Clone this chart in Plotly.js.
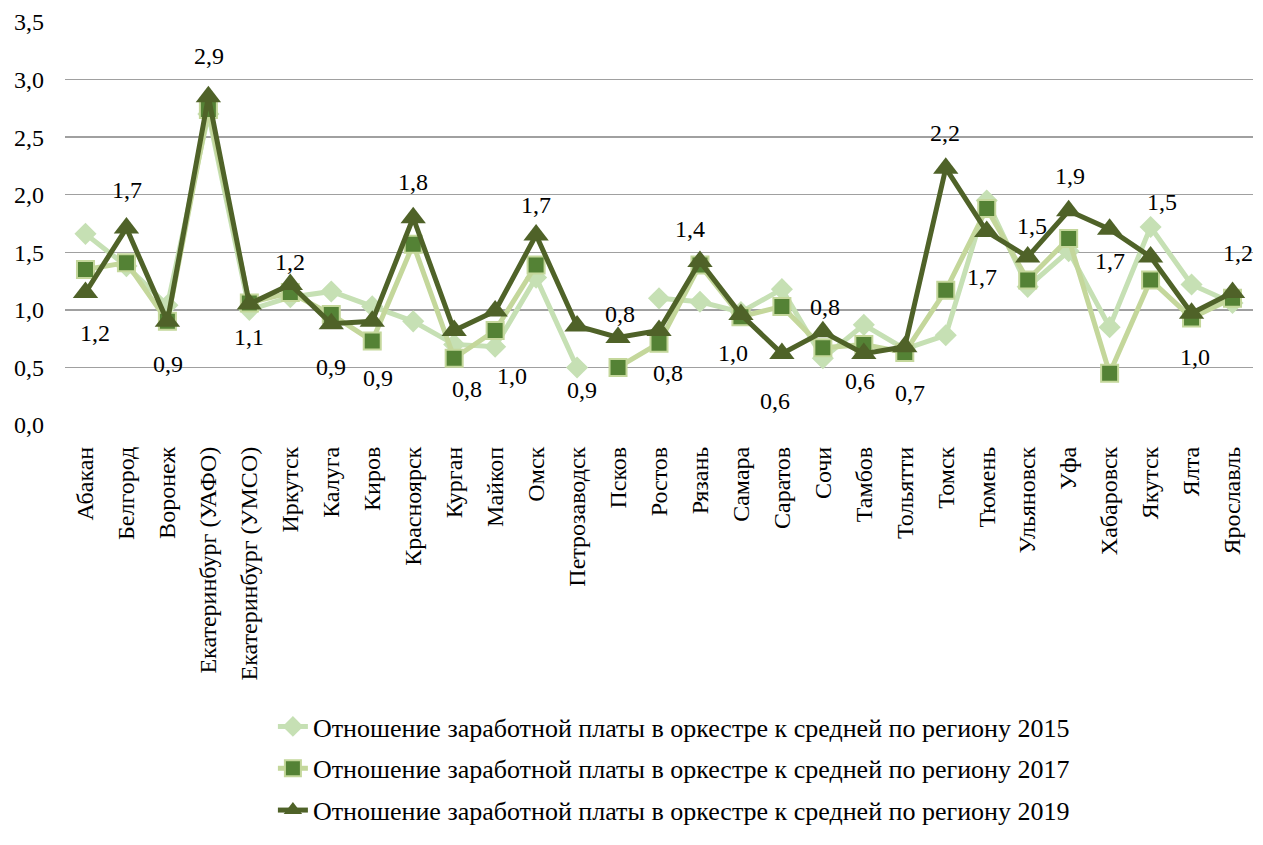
<!DOCTYPE html>
<html>
<head>
<meta charset="utf-8">
<script src="https://cdn.plot.ly/plotly-3.0.1.min.js"></script>
<style>html,body{margin:0;padding:0;background:#fff;}#chart{width:1263px;height:845px;}</style>
</head>
<body>
<div id="chart"></div>
<script>
const categories = ["Абакан","Белгород","Воронеж","Екатеринбург (УАФО)","Екатеринбург (УМСО)","Иркутск","Калуга","Киров","Красноярск","Курган","Майкоп","Омск","Петрозаводск","Псков","Ростов","Рязань","Самара","Саратов","Сочи","Тамбов","Тольятти","Томск","Тюмень","Ульяновск","Уфа","Хабаровск","Якутск","Ялта","Ярославль"];

const v2015 = [1.66,1.38,1.04,2.70,1.00,1.11,1.16,1.03,0.90,0.70,0.68,1.28,0.50,null,1.10,1.07,0.98,1.18,0.58,0.87,0.66,0.78,1.95,1.20,1.51,0.85,1.72,1.22,1.06];
const v2017 = [1.35,1.41,0.90,2.74,1.06,1.15,0.96,0.73,1.57,0.58,0.82,1.39,null,0.50,0.71,1.39,0.94,1.03,0.67,0.70,0.63,1.17,1.88,1.26,1.62,0.45,1.26,0.93,1.10];
const v2019 = [1.15,1.71,0.90,2.85,1.05,1.22,0.88,0.90,1.80,0.82,0.99,1.65,0.86,0.76,0.82,1.42,0.96,0.62,0.81,0.62,0.68,2.23,1.68,1.46,1.86,1.70,1.46,0.97,1.15];

const seriesNames = [
  "Отношение заработной платы в оркестре к средней по региону 2015",
  "Отношение заработной платы в оркестре к средней по региону 2017",
  "Отношение заработной платы в оркестре к средней по региону 2019"
];

// label placement offsets (pixels) for the 2019 data labels
const labelDy = [-40,38,-43,41,-33,23,-43,-57,36,-58,-65,30,-64,23,-42,33,-39,-47,25,-27,-46,35,-45,31,35,-32,55,-44,40];
const labelDx = [10,1,1,1,0,0,0,6,0,13,17,0,5,2,9,-10,-8,-7,2,-4,5,-1,-5,4,1,0,11,3,5];

const FONT = "Liberation Serif";

const traces = [
  {x: categories, y: v2015, name: seriesNames[0], type: "scatter", mode: "lines+markers",
   legendgroup: "a", connectgaps: false,
   line: {color: "#c6e0b4", width: 5},
   marker: {symbol: "diamond", size: 17, color: "#c6e0b4", line: {width: 0}}},
  {x: categories, y: v2017, name: seriesNames[1], type: "scatter", mode: "lines+markers",
   legendgroup: "b", connectgaps: false,
   line: {color: "#c4d79b", width: 5},
   marker: {symbol: "square", size: 17, color: "#548235", line: {color: "#c4d79b", width: 2}}},
  {x: categories, y: v2019, name: seriesNames[2], type: "scatter", mode: "lines+markers",
   legendgroup: "c", connectgaps: false,
   line: {color: "#4f6228", width: 5},
   marker: {symbol: "triangle-up", size: 22, color: "#4f6228", line: {width: 0}}}
];

const annotations = v2019.map((v, i) => ({
  x: categories[i], y: v, xref: "x", yref: "y",
  text: (Math.round(v * 10) / 10).toFixed(1).replace(".", ","),
  showarrow: false, yshift: labelDy[i], xshift: labelDx[i],
  font: {family: FONT, size: 24, color: "#000"}
}));

const layout = {
  width: 1263, height: 845,
  margin: {l: 65, r: 10, t: 22, b: 420},
  paper_bgcolor: "#fff", plot_bgcolor: "#fff",
  separators: ", ",
  font: {family: FONT, size: 24, color: "#000"},
  showlegend: true,
  legend: {x: 0.175, y: -0.69, xanchor: "left", yanchor: "top", orientation: "v",
           tracegroupgap: 5, font: {family: FONT, size: 26, color: "#000"}, bgcolor: "rgba(0,0,0,0)"},
  xaxis: {type: "category", range: [-0.5, 28.5], tickangle: -90, showgrid: false, showline: false, zeroline: false,
          ticks: "", ticklabelstandoff: 16, tickfont: {family: FONT, size: 24, color: "#000"}, automargin: false},
  yaxis: {range: [0, 3.5], dtick: 0.5, tickformat: ".1f", showgrid: true, gridcolor: "#a0a0a0", gridwidth: 1.5,
          zeroline: false, showline: false, ticks: "", ticklabelstandoff: 20,
          tickfont: {family: FONT, size: 24, color: "#000"}, automargin: false},
  annotations: annotations
};

Plotly.newPlot("chart", traces, layout, {displayModeBar: false, staticPlot: true});
</script>
</body>
</html>
